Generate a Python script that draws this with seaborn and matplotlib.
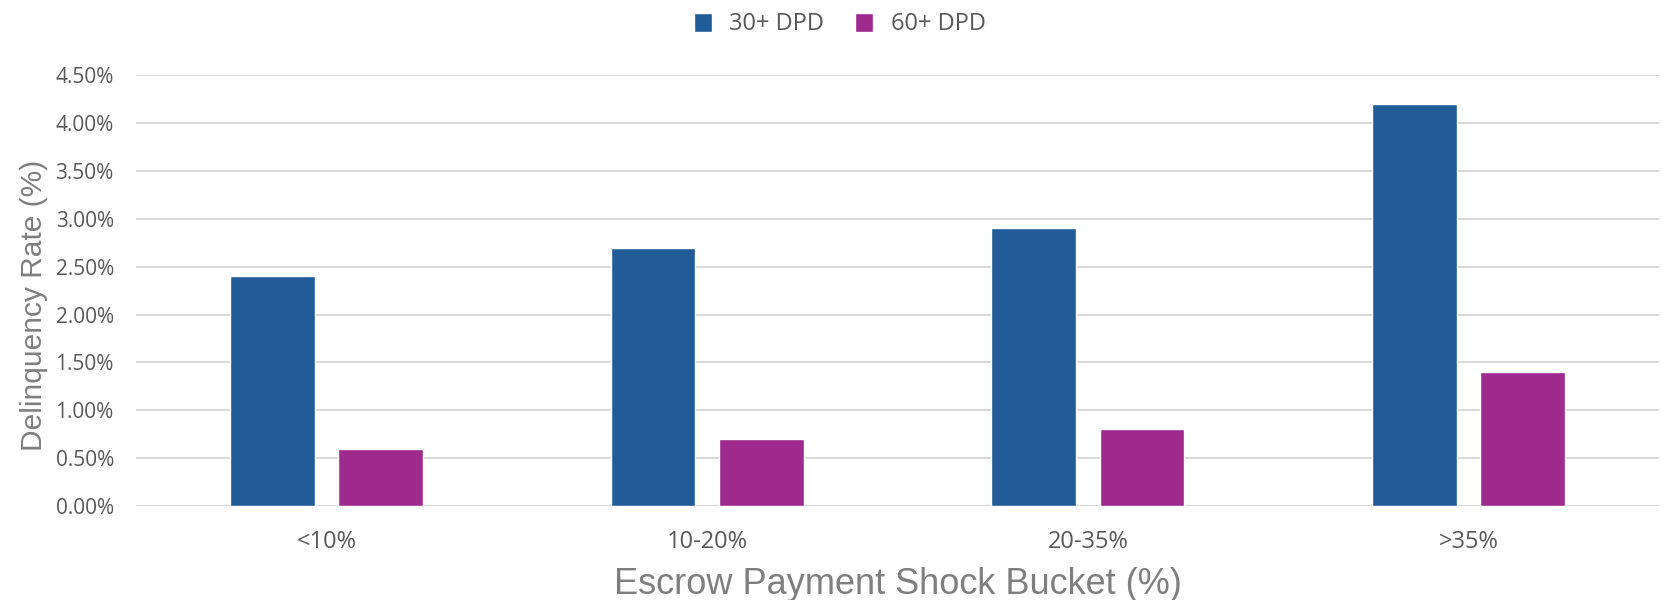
import matplotlib
matplotlib.use("Agg")
import matplotlib.pyplot as plt
import seaborn as sns
import pandas as pd
from matplotlib.ticker import FuncFormatter, MultipleLocator

categories = ["<10%", "10-20%", "20-35%", ">35%"]
series_names = ["30+ DPD", "60+ DPD"]
dpd30 = [2.4, 2.7, 2.9, 4.2]
dpd60 = [0.6, 0.7, 0.8, 1.4]
colors = ["#215B98", "#9E2A8E"]

df = pd.DataFrame({
    "bucket": categories * 2,
    "series": [series_names[0]] * 4 + [series_names[1]] * 4,
    "rate": dpd30 + dpd60,
})

sns.set_theme(style="white")
plt.rcParams["font.family"] = ["Open Sans", "DejaVu Sans"]

fig = plt.figure(figsize=(16.63, 6.0), dpi=100)
ax = fig.add_axes([0.0818, 0.1567, 0.9158, 0.7178])

sns.barplot(data=df, x="bucket", y="rate", hue="series", order=categories,
            hue_order=series_names, palette=colors, width=0.568, gap=0.216,
            saturation=1, ax=ax, errorbar=None, zorder=3)

ax.set_ylim(0, 4.5)
ax.set_xlim(-0.5, 3.5)
ax.yaxis.set_major_locator(MultipleLocator(0.5))
ax.yaxis.set_major_formatter(FuncFormatter(lambda v, p: f"{v:.2f}%"))
ax.grid(axis="y", color="#D9D9D9", linewidth=1.5, zorder=0)
ax.set_axisbelow(True)
for s in ax.spines.values():
    s.set_visible(False)
ax.tick_params(axis="y", length=0, pad=16, labelsize=15, labelcolor="#595959")
ax.tick_params(axis="x", length=0, pad=17, labelsize=17, labelcolor="#595959")

ax.set_ylabel("Delinquency Rate (%)", fontsize=21.5, color="#7F7F7F",
              family=["Liberation Sans", "DejaVu Sans"])
ax.yaxis.set_label_coords(-0.058, 0.466)
ax.set_xlabel("Escrow Payment Shock Bucket (%)", fontsize=26, color="#7F7F7F",
              family=["Liberation Sans", "DejaVu Sans"])
ax.xaxis.set_label_coords(0.5, -0.142)

handles, labels = ax.get_legend_handles_labels()
ax.legend(handles, labels, loc="upper center", bbox_to_anchor=(0.505, 0.995),
          bbox_transform=fig.transFigure, ncol=2, frameon=False, fontsize=17,
          labelcolor="#595959", handlelength=0.75, handleheight=0.85,
          handletextpad=0.75, columnspacing=1.3, borderaxespad=0.0)

fig.savefig("out.png", dpi=100)
